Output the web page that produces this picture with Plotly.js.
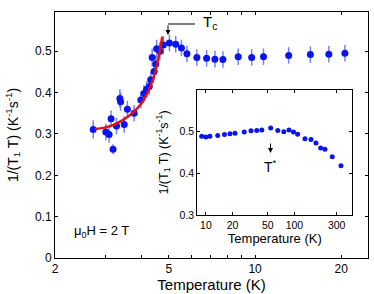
<!DOCTYPE html>
<html>
<head>
<meta charset="utf-8">
<script src="https://cdn.plot.ly/plotly-3.0.1.min.js"></script>
<style>html,body{margin:0;padding:0;background:#fff;}#chart{width:374px;height:294px;}</style>
</head>
<body>
<div id="chart"></div>
<script>
// Main panel data: temperature (K) and 1/(T1 T) (K^-1 s^-1)
var mainT = [2.72, 3.01, 3.09, 3.14, 3.19, 3.28, 3.37, 3.39, 3.49, 3.58, 3.78, 3.99, 4.09, 4.18, 4.27, 4.32, 4.37, 4.44, 4.50, 4.53, 4.65, 4.78, 5.02, 5.28, 5.53, 5.78, 6.26, 6.77, 7.24, 7.72, 8.73, 9.73, 10.7, 13.1, 15.6, 18.1, 20.6];
var mainY = [0.311, 0.305, 0.299, 0.337, 0.263, 0.319, 0.386, 0.378, 0.323, 0.360, 0.350, 0.382, 0.398, 0.408, 0.415, 0.431, 0.485, 0.451, 0.469, 0.506, 0.500, 0.515, 0.520, 0.517, 0.508, 0.494, 0.485, 0.483, 0.481, 0.480, 0.487, 0.485, 0.487, 0.490, 0.492, 0.493, 0.495];
var mainErr = [0.022, 0.02, 0.02, 0.02, 0.012, 0.02, 0.022, 0.022, 0.02, 0.02, 0.02, 0.02, 0.02, 0.02, 0.02, 0.02, 0.022, 0.02, 0.02, 0.022, 0.022, 0.022, 0.02, 0.02, 0.02, 0.02, 0.02, 0.02, 0.02, 0.02, 0.02, 0.02, 0.02, 0.02, 0.02, 0.02, 0.02];
// Red fit curve
var fitT = [2.76, 3.0, 3.2, 3.4, 3.6, 3.8, 4.0, 4.2, 4.4, 4.6, 4.74];
var fitY = [0.312, 0.316, 0.322, 0.331, 0.342, 0.356, 0.373, 0.398, 0.432, 0.485, 0.535];
// Inset data
var insetT = [8.97, 10.0, 11.1, 13.6, 16.2, 18.7, 21.3, 27.1, 32.3, 37.5, 42.8, 53.9, 64.8, 75.8, 86.7, 97.5, 108.7, 131.4, 153.6, 174.9, 197.7, 221, 267.3, 335];
var insetY = [0.489, 0.487, 0.489, 0.491, 0.493, 0.495, 0.496, 0.499, 0.502, 0.503, 0.504, 0.509, 0.503, 0.500, 0.504, 0.4995, 0.494, 0.483, 0.481, 0.473, 0.461, 0.458, 0.440, 0.418];
// Tick labels
var mainXTicks = [2, 5, 10, 20];
var mainXText = ['2', '5', '10', '20'];
var mainXMinor = [3, 4, 6, 7, 8, 9];
var mainYTicks = [0, 0.1, 0.2, 0.3, 0.4, 0.5];
var mainYText = ['0', '0.1', '0.2', '0.3', '0.4', '0.5'];
var insetXTicks = [10, 20, 50, 100, 300];
var insetXText = ['10', '20', '50', '100', '300'];
var insetYTicks = [0.3, 0.4, 0.5];
var insetYText = ['0.3', '0.4', '0.5'];

var FONT = 'Liberation Sans, Arial, sans-serif';
var L = 55, R = 368, T = 12, B = 258;
function px(x) { return (x - L) / (R - L); }
function py(y) { return (B - y) / (B - T); }

var traces = [
  {
    x: mainT, y: mainY, type: 'scatter', mode: 'markers',
    marker: {color: '#0a14f0', size: 7},
    error_y: {type: 'data', array: mainErr, visible: true, color: 'rgba(80,100,240,0.8)', thickness: 1.5, width: 0},
    xaxis: 'x', yaxis: 'y', hoverinfo: 'none'
  },
  {
    x: fitT, y: fitY, type: 'scatter', mode: 'lines',
    line: {color: '#e8100c', width: 2.5, shape: 'spline'},
    xaxis: 'x', yaxis: 'y', hoverinfo: 'none'
  },
  {
    x: insetT, y: insetY, type: 'scatter', mode: 'markers',
    marker: {color: '#0a14f0', size: 5},
    xaxis: 'x2', yaxis: 'y2', hoverinfo: 'none'
  }
];

var axCommon = {
  showgrid: false, zeroline: false, showline: true, linecolor: '#000', linewidth: 1,
  ticks: 'inside', ticklen: 3, tickcolor: '#000', mirror: 'allticks',
  tickmode: 'array'
};

var layout = {
  width: 374, height: 294,
  margin: {l: L, r: 374 - R, t: T, b: 294 - B},
  paper_bgcolor: '#fff', plot_bgcolor: '#fff',
  showlegend: false,
  font: {family: FONT, color: '#000'},
  xaxis: Object.assign({}, axCommon, {
    type: 'log', range: [Math.log10(2), Math.log10(24.8)],
    tickvals: mainXTicks, ticktext: mainXText,
    minor: {tickmode: 'array', tickvals: mainXMinor, ticks: 'inside', ticklen: 3, tickcolor: '#000', showgrid: false},
    tickfont: {size: 12, family: FONT},
    title: {text: 'Temperature (K)', font: {size: 15, family: FONT}, standoff: 4}
  }),
  yaxis: Object.assign({}, axCommon, {
    range: [0, 0.595],
    tickvals: mainYTicks, ticktext: mainYText,
    tickfont: {size: 12, family: FONT},
    title: {text: '1/(T<sub>1</sub> T) (K<sup>-1</sup>s<sup>-1</sup>)', font: {size: 14, family: FONT}, standoff: 13}
  }),
  xaxis2: Object.assign({}, axCommon, {
    domain: [px(197.3), px(352.3)], anchor: 'y2',
    type: 'log', range: [Math.log10(8), Math.log10(450)],
    tickvals: insetXTicks, ticktext: insetXText,
    tickfont: {size: 10.5, family: FONT},
    title: {text: 'Temperature (K)', font: {size: 13, family: FONT}, standoff: 2}
  }),
  yaxis2: Object.assign({}, axCommon, {
    domain: [py(215), py(90)], anchor: 'x2',
    range: [0.3, 0.6],
    tickvals: insetYTicks, ticktext: insetYText,
    tickfont: {size: 10.5, family: FONT},
    title: {text: '1/(T<sub>1</sub> T) (K<sup>-1</sup>s<sup>-1</sup>)', font: {size: 12.5, family: FONT}, standoff: 8}
  }),
  shapes: [
    {type: 'line', xref: 'paper', yref: 'paper', x0: px(168), x1: px(195), y0: py(24), y1: py(24), line: {color: '#000', width: 1}}
  ],
  annotations: [
    {xref: 'paper', yref: 'paper', x: px(168), y: py(35), ax: 0, ay: -11, text: '', showarrow: true,
     arrowhead: 2, arrowsize: 1, arrowwidth: 1, arrowcolor: '#000'},
    {xref: 'paper', yref: 'paper', x: px(201), y: py(23), xanchor: 'left', yanchor: 'middle',
     text: 'T<sub>c</sub>', showarrow: false, font: {size: 15, family: FONT}},
    {xref: 'paper', yref: 'paper', x: px(72), y: py(231), xanchor: 'left', yanchor: 'middle',
     text: '\u03bc<sub>0</sub>H = 2 T', showarrow: false, font: {size: 13, family: FONT}},
    {xref: 'paper', yref: 'paper', x: px(270.5), y: py(153), ax: 0, ay: -11, text: '', showarrow: true,
     arrowhead: 2, arrowsize: 1, arrowwidth: 1, arrowcolor: '#000'},
    {xref: 'paper', yref: 'paper', x: px(270.5), y: py(166), xanchor: 'center', yanchor: 'middle',
     text: 'T<sup>*</sup>', showarrow: false, font: {size: 14, family: FONT}}
  ]
};

Plotly.newPlot('chart', traces, layout, {staticPlot: true, displayModeBar: false});
</script>
</body>
</html>
